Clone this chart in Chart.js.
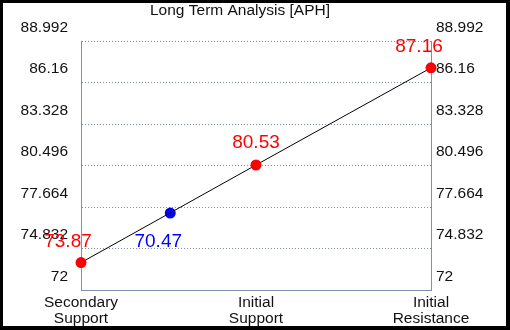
<!DOCTYPE html>
<html>
<head>
<meta charset="utf-8">
<script src="https://cdn.jsdelivr.net/npm/chart.js@4/dist/chart.umd.min.js"></script>
<style>
  html, body { margin: 0; padding: 0; background: #000; }
  #wrap { position: absolute; left: 3px; top: 3px; width: 503px; height: 323px; background: #fff; }
</style>
</head>
<body>
<div id="wrap"><canvas id="levelChart"></canvas></div>
<script>
// 차트 데이터
const titleText = 'Long Term Analysis [APH]';
const levelNames = [['Secondary', 'Support'], ['Initial', 'Support'], ['Initial', 'Resistance']];
const levelX = [0, 1, 2];
const levelValues = [73.87, 80.53, 87.16];
const levelLabels = ['73.87', '80.53', '87.16'];
const priceX = [0.51];
const priceValues = [77.25];
const priceLabels = ['70.47'];
const yTicks = [72, 74.832, 77.664, 80.496, 83.328, 86.16, 88.992];

const FONT = 'Liberation Sans, Arial, sans-serif';
const GRID = '#7f8ba3';
const AXIS = '#7d91b0';

// 값 라벨 + 제목 그리기
const valueLabelPlugin = {
  id: 'valueLabels',
  afterDatasetsDraw(chart) {
    const ctx = chart.ctx;
    ctx.save();
    ctx.font = '19px ' + FONT;
    ctx.textAlign = 'center';
    ctx.textBaseline = 'middle';
    const redOff = [[-13, -21], [0, -22], [-12, -21]];
    chart.getDatasetMeta(0).data.forEach((p, i) => {
      ctx.fillStyle = '#ff0000';
      ctx.fillText(levelLabels[i], p.x + redOff[i][0], p.y + redOff[i][1]);
    });
    chart.getDatasetMeta(1).data.forEach((p, i) => {
      ctx.fillStyle = '#0000ff';
      ctx.fillText(priceLabels[i], p.x - 12, p.y + 29);
    });
    ctx.font = '15.5px ' + FONT;
    ctx.fillStyle = '#111';
    ctx.textBaseline = 'alphabetic';
    ctx.fillText(titleText, 237, 12);
    ctx.restore();
  }
};

const yCommon = {
  min: yTicks[0],
  max: yTicks[yTicks.length - 1],
  afterBuildTicks: s => { s.ticks = yTicks.map(v => ({ value: v })); },
  ticks: {
    color: '#111',
    font: { family: FONT, size: 15.5 },
    labelOffset: -13.5,
    callback: v => String(Math.round(v * 1000) / 1000)
  }
};

new Chart(document.getElementById('levelChart').getContext('2d'), {
  type: 'scatter',
  data: {
    datasets: [{
      data: levelX.map((x, i) => ({ x, y: levelValues[i] })),
      showLine: true,
      clip: false,
      borderColor: '#000',
      borderWidth: 1,
      pointRadius: 5.5,
      pointBorderWidth: 0,
      pointBackgroundColor: '#ff0000',
      pointBorderColor: '#ff0000'
    }, {
      data: priceX.map((x, i) => ({ x, y: priceValues[i] })),
      showLine: false,
      clip: false,
      pointRadius: 5.5,
      pointBorderWidth: 0,
      pointBackgroundColor: '#0000ff',
      pointBorderColor: '#0000ff'
    }]
  },
  options: {
    responsive: true,
    maintainAspectRatio: false,
    animation: false,
    layout: { padding: { top: 38, left: 0, right: 0, bottom: 0 } },
    scales: {
      x: {
        type: 'linear',
        min: 0,
        max: 2,
        afterBuildTicks: s => { s.ticks = levelX.map(v => ({ value: v })); },
        afterFit: s => { s.height = 36; },
        grid: { display: false, drawTicks: false },
        border: { display: true, color: AXIS, width: 1 },
        ticks: {
          color: '#111',
          padding: 5,
          maxRotation: 0,
          autoSkip: false,
          font: { family: FONT, size: 15.5, lineHeight: 1.0 },
          callback: v => levelNames[levelX.indexOf(v)]
        }
      },
      y: {
        ...yCommon,
        position: 'left',
        afterFit: s => { s.width = 78; },
        grid: { color: GRID, lineWidth: 1, drawTicks: false },
        border: { display: true, color: AXIS, width: 1, dash: [1, 2] },
        ticks: { ...yCommon.ticks, padding: 13 }
      },
      y2: {
        ...yCommon,
        position: 'right',
        afterFit: s => { s.width = 75; },
        grid: { display: false, drawTicks: false },
        border: { display: true, color: AXIS, width: 1 },
        ticks: { ...yCommon.ticks, padding: 5 }
      }
    },
    plugins: {
      legend: { display: false },
      title: { display: false },
      tooltip: { enabled: false }
    }
  },
  plugins: [valueLabelPlugin]
});
</script>
</body>
</html>
